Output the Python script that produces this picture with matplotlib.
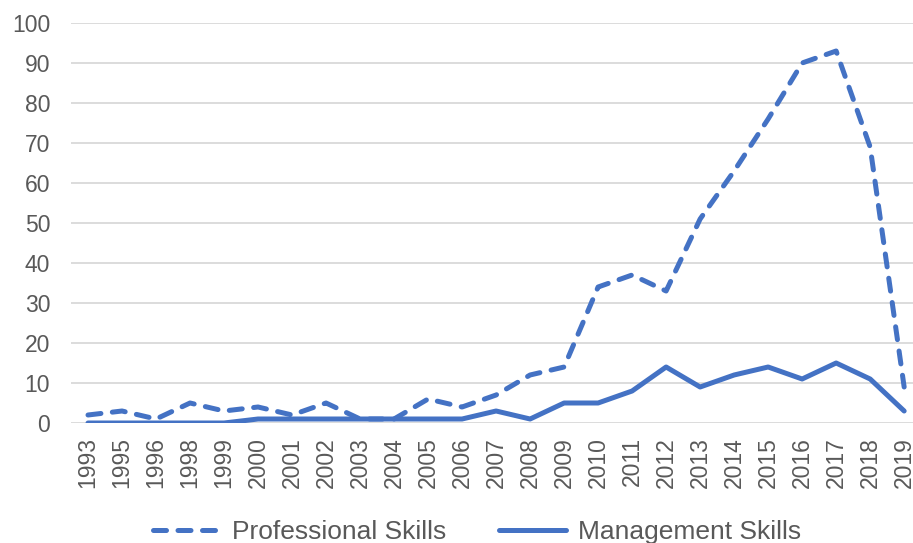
import matplotlib
matplotlib.use("Agg")
import matplotlib.pyplot as plt

years = ["1993", "1995", "1996", "1998", "1999", "2000", "2001", "2002", "2003",
         "2004", "2005", "2006", "2007", "2008", "2009", "2010", "2011", "2012",
         "2013", "2014", "2015", "2016", "2017", "2018", "2019"]
professional = [2, 3, 1, 5, 3, 4, 2, 5, 1, 1, 6, 4, 7, 12, 14, 34, 37, 33,
                51, 63, 76, 90, 93, 69, 9]
management = [0, 0, 0, 0, 0, 1, 1, 1, 1, 1, 1, 1, 3, 1, 5, 5, 8, 14,
              9, 12, 14, 11, 15, 11, 3]

blue = "#4472C4"
grey = "#595959"

plt.rcParams['font.family'] = ['Liberation Sans', 'DejaVu Sans']

fig = plt.figure(figsize=(9.13, 5.43), dpi=100)
ax = fig.add_axes([71 / 913, 120 / 543, 1 - 71 / 913, 400 / 543])

x = list(range(len(years)))
ax.plot(x, professional, color=blue, lw=3.6, dashes=(2.6, 2.3),
        dash_capstyle='round', dash_joinstyle='round', label="Professional Skills")
ax.plot(x, management, color=blue, lw=3.6, solid_capstyle='round',
        solid_joinstyle='round', label="Management Skills")

ax.set_ylim(0, 100)
ax.set_xlim(-0.5, 24.26)
ax.set_yticks(range(0, 101, 10))
ax.set_xticks(x)
ax.set_xticklabels(years, rotation=90, va='top', ha='center')
ax.tick_params(axis='both', length=0, labelsize=16.5, colors=grey)
ax.tick_params(axis='y', pad=15)
ax.tick_params(axis='x', pad=10)
ax.grid(axis='y', color="#D9D9D9", lw=1.3)
ax.set_axisbelow(True)
for s in ax.spines.values():
    s.set_visible(False)

leg = fig.legend(loc='center', bbox_to_anchor=(477 / 913, 11 / 543), ncol=2,
                 frameon=False, fontsize=19, handlelength=2.55,
                 handletextpad=0.43, columnspacing=2.0, labelcolor=grey)

fig.savefig("out.png", dpi=100)
